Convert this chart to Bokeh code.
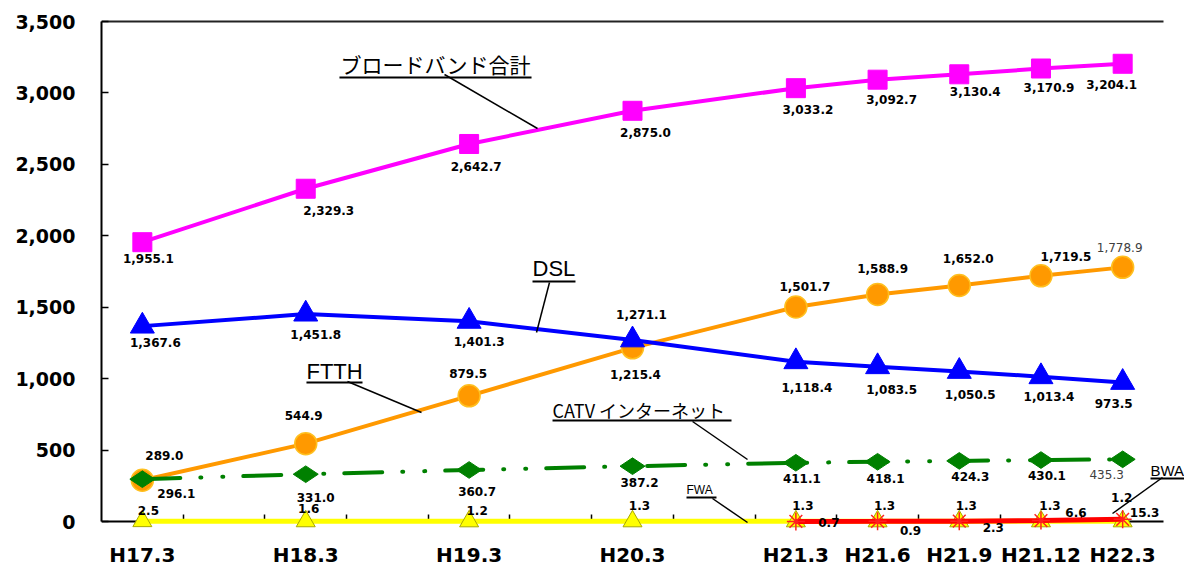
import math
from bokeh.plotting import figure
from bokeh.models import ColumnDataSource, Range1d, FixedTicker, NumeralTickFormatter
from bokeh.core.properties import value
from bokeh.embed import file_html
from bokeh.resources import INLINE

# ---------------- data ----------------
periods = ["H17.3", "H18.3", "H19.3", "H20.3", "H21.3", "H21.6", "H21.9", "H21.12", "H22.3"]
# position of each period on the 13-slot time axis (yearly steps with gaps, then quarterly)
slots = [0, 2, 4, 6, 8, 9, 10, 11, 12]
total = [1955.1, 2329.3, 2642.7, 2875.0, 3033.2, 3092.7, 3130.4, 3170.9, 3204.1]
dsl = [1367.6, 1451.8, 1401.3, 1271.1, 1118.4, 1083.5, 1050.5, 1013.4, 973.5]
ftth = [289.0, 544.9, 879.5, 1215.4, 1501.7, 1588.9, 1652.0, 1719.5, 1778.9]
catv = [296.1, 331.0, 360.7, 387.2, 411.1, 418.1, 424.3, 430.1, 435.3]
fwa = [2.5, 1.6, 1.2, 1.3, 1.3, 1.3, 1.3, 1.3, 1.2]
bwa_periods = ["H21.3", "H21.6", "H21.9", "H21.12", "H22.3"]
bwa = [0.7, 0.9, 2.3, 6.6, 15.3]
y_ticks = [0, 500, 1000, 1500, 2000, 2500, 3000, 3500]

# ---------------- label placement (screen px offsets from each point) ----------------
off_total = [(6, 16), (23, 22), (7, 23), (13, 22), (12, 21), (14, 20), (16, 17), (8, 19), (-11, 21)]
off_dsl = [(13, 16), (10, 20), (10, 20), (9, -25), (11, 26), (14, 23), (11, 23), (8, 20), (-9, 21)]
off_ftth = [(22, -25), (-2, -28), (-1, -22), (3, 27), (9, -20), (5, -26), (9, -27), (25, -19), (-3, -20)]
off_catv = [(34, 14), (10, 23), (8, 22), (7, 16), (6, 16), (8, 17), (11, 16), (6, 15), (-16, 15)]
off_fwa = [(6, -11), (3, -13), (8, -11), (7, -16), (7, -16), (7, -16), (7, -16), (9, -16), (-1, -24)]
off_bwa = [(33, 1), (33, 9), (34, 6), (35, -8), (22, -7)]

p = figure(width=1184, height=567, output_backend="svg", toolbar_location=None,
           x_range=Range1d(-0.5, 12.757), y_range=Range1d(-322, 3514),
           min_border_left=101, min_border_right=0, min_border_top=19, min_border_bottom=0)
p.outline_line_color = None
p.grid.visible = False
p.background_fill_color = "white"
p.border_fill_color = "white"

# x axis along y = 0
xa = p.xaxis[0]
xa.fixed_location = 0
xa.level = "underlay"
xa.bounds = (-0.5, 12.5)
xa.ticker = FixedTicker(ticks=slots, minor_ticks=[k + 0.5 for k in range(12)])
xa.major_label_overrides = {s: lab for s, lab in zip(slots, periods)}
xa.major_tick_line_color = None
xa.minor_tick_in = 7
xa.minor_tick_out = 0
xa.minor_tick_line_color = "black"
xa.minor_tick_line_width = 1.5
xa.axis_line_color = "black"
xa.axis_line_width = 2
xa.major_label_text_font = "DejaVu Sans"
xa.major_label_text_font_style = "bold"
xa.major_label_text_font_size = "20px"
xa.major_label_text_color = "black"
xa.major_label_standoff = 15

ya = p.yaxis[0]
ya.bounds = (0, 3500)
ya.ticker = FixedTicker(ticks=y_ticks, minor_ticks=[])
ya.formatter = NumeralTickFormatter(format="0,0")
ya.major_tick_in = 7
ya.major_tick_out = 0
ya.major_tick_line_width = 1.5
ya.major_tick_line_color = "black"
ya.axis_line_color = "black"
ya.axis_line_width = 2
ya.major_label_text_font = "DejaVu Sans"
ya.major_label_text_font_style = "bold"
ya.major_label_text_font_size = "19px"
ya.major_label_text_color = "black"
ya.major_label_standoff = 26

# top border of the plot area
p.segment(x0=[-0.5], y0=[3500], x1=[12.5], y1=[3500], line_color="#222222", line_width=2)

# ---------------- series ----------------
p.line(slots, ftth, line_color="#FF9900", line_width=4)
p.scatter(slots, ftth, marker="circle", size=22, fill_color="#FF9900", line_color="#FFC020", line_width=1.5)

p.line(slots, dsl, line_color="#0000FF", line_width=4)
p.scatter(slots, dsl, marker="triangle", size=24, fill_color="#0000FF", line_color="#0000FF")

p.line(slots, catv, line_color="#008000", line_width=4, line_dash="38 20 1 21 1 20", line_cap="round")
p.scatter(slots, catv, marker="diamond", angle=math.pi / 2, size=25, fill_color="#008000", line_color="#008000")

p.line(slots, total, line_color="#FF00FF", line_width=4)
p.scatter(slots, total, marker="square", size=19, fill_color="#FF00FF", line_color="#FF00FF")

p.line(slots, fwa, line_color="#FFFF00", line_width=5)
p.scatter(slots, fwa, marker="triangle", size=19, fill_color="#FFFF00", line_color="#A8A800", line_width=1)

bwa_slots = [slots[periods.index(q)] for q in bwa_periods]
p.line(bwa_slots, bwa, line_color="#FF0000", line_width=5)
p.scatter(bwa_slots, bwa, marker="asterisk", size=18, line_color="#FF2020", line_width=1.5)

# ---------------- value labels ----------------
def fmt(v):
    return f"{v:,.1f}"

rows = {"x": [], "y": [], "t": [], "dx": [], "dy": []}
light = {"x": [], "y": [], "t": [], "dx": [], "dy": []}
for xs, ys, offs, last_light in [(slots, total, off_total, False), (slots, dsl, off_dsl, False),
                                 (slots, ftth, off_ftth, True), (slots, catv, off_catv, True),
                                 (slots, fwa, off_fwa, False), (bwa_slots, bwa, off_bwa, False)]:
    for i, (xv, yv, (dx, dy)) in enumerate(zip(xs, ys, offs)):
        tgt = light if (last_light and i == len(xs) - 1) else rows
        tgt["x"].append(xv); tgt["y"].append(yv); tgt["t"].append(fmt(yv))
        tgt["dx"].append(dx); tgt["dy"].append(dy)

p.text(x="x", y="y", text="t", x_offset="dx", y_offset="dy", source=ColumnDataSource(rows),
       text_font=value("DejaVu Sans"), text_font_style="bold", text_font_size="12px",
       text_color="black", text_align="center", text_baseline="middle")
p.text(x="x", y="y", text="t", x_offset="dx", y_offset="dy", source=ColumnDataSource(light),
       text_font=value("DejaVu Sans"), text_font_style="normal", text_font_size="12px",
       text_color="#404040", text_align="center", text_baseline="middle")

# ---------------- series name callouts ----------------
callouts = [
    # text, font, size, text x, text y, underline (x0, x1, y), leader (x0, y0, x1, y1)
    ("ブロードバンド合計", "Noto Sans CJK JP", "21px", 2.426, 3206, (2.413, 4.764, 3108), (3.699, 3129, 4.837, 2751)),
    ("DSL", "Liberation Sans", "22px", 4.776, 1771, (4.776, 5.302, 1680), (4.984, 1673, 4.825, 1323)),
    ("FTTH", "Liberation Sans", "22px", 2.009, 1050, (2.009, 2.695, 973), (2.511, 980, 3.417, 763)),
    ("CATV インターネット", "Noto Sans CJK JP", "18px", 5.021, 784, (5.021, 7.212, 707), (6.735, 700, 7.408, 434)),
    ("FWA", "Liberation Sans", "12px", 6.661, 224, (6.661, 7.028, 168), (6.979, 161, 7.408, -7)),
    ("BWA", "Liberation Sans", "15px", 12.341, 357, (12.341, 12.757, 301), (12.488, 308, 11.876, 56)),
]
for txt, font, size, tx, ty, ul, ld in callouts:
    p.text(x=[tx], y=[ty], text=[txt], text_font=value(font), text_font_size=size,
           text_color="black", text_align="left", text_baseline="middle")
    p.segment(x0=[ul[0]], y0=[ul[2]], x1=[ul[1]], y1=[ul[2]], line_color="black", line_width=2)
    p.segment(x0=[ld[0]], y0=[ld[1]], x1=[ld[2]], y1=[ld[3]], line_color="black", line_width=1.5)

open("out.html", "w").write(file_html(p, INLINE))
